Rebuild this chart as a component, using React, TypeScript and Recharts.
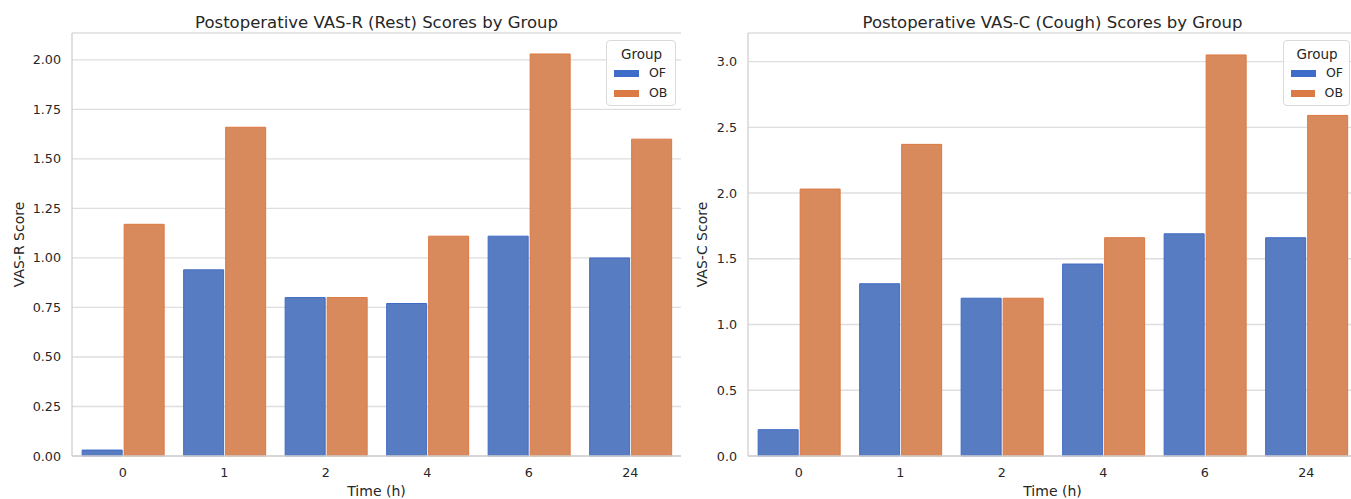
import React from 'react';
import { BarChart, Bar, XAxis, YAxis, CartesianGrid, Legend } from 'recharts';

// values
const times = ['0', '1', '2', '4', '6', '24'];
const restOF = [0.03, 0.94, 0.8, 0.77, 1.11, 1.0];
const restOB = [1.17, 1.66, 0.8, 1.11, 2.03, 1.6];
const coughOF = [0.2, 1.31, 1.2, 1.46, 1.69, 1.66];
const coughOB = [2.03, 2.37, 1.2, 1.66, 3.05, 2.59];
const restTicks = [0, 0.25, 0.5, 0.75, 1.0, 1.25, 1.5, 1.75, 2.0];
const coughTicks = [0, 0.5, 1.0, 1.5, 2.0, 2.5, 3.0];

const FONT = '"DejaVu Sans", Verdana, sans-serif';
const TEXT = '#262626';
const FRAME = '#d0d0d0';

const groups = [
  { key: 'OF', fill: '#587cc1', stroke: '#3f6bc6', swatch: '#3f6cc8' },
  { key: 'OB', fill: '#d88a5d', stroke: '#dc7840', swatch: '#dc7a45' },
];

const GroupLegend = ({ width }: { width: number }) => (
  <div
    style={{
      width,
      boxSizing: 'border-box',
      border: '1px solid #d9d9d9',
      borderRadius: 4,
      background: 'rgba(255,255,255,0.85)',
      padding: '4px 6px 2px 7px',
      fontFamily: FONT,
      color: TEXT,
    }}
  >
    <div style={{ fontSize: 13.5, textAlign: 'center', lineHeight: '18px' }}>Group</div>
    {groups.map((g) => (
      <div key={g.key} style={{ display: 'flex', alignItems: 'center', fontSize: 12.5, lineHeight: '20px' }}>
        <span style={{ display: 'inline-block', width: 25, height: 7, background: g.swatch, marginRight: 10 }} />
        {g.key}
      </div>
    ))}
  </div>
);

interface PanelProps {
  title: string;
  yLabel: string;
  of: number[];
  ob: number[];
  ticks: number[];
  yMax: number;
  digits: number;
  left: number;
  width: number;
  marginRight: number;
  axisWidth: number;
  legendLeft: number;
  legendWidth: number;
  yLabelX: number;
}

function Panel(p: PanelProps) {
  const data = times.map((t, i) => ({ time: t, OF: p.of[i], OB: p.ob[i] }));
  const plotLeft = p.axisWidth;
  const plotRight = p.width - p.marginRight;
  const cx = (plotLeft + plotRight) / 2;
  const tickStyle = { fill: TEXT, fontSize: 12.7, fontFamily: FONT };

  return (
    <div style={{ position: 'absolute', left: p.left, top: 0, width: p.width, height: 499 }}>
      <BarChart
        width={p.width}
        height={499}
        data={data}
        margin={{ top: 33, right: p.marginRight, bottom: 13, left: 0 }}
        barCategoryGap="10%"
        barGap={2}
      >
        <CartesianGrid vertical={false} stroke="#dedede" strokeWidth={1.3} />
        <XAxis
          dataKey="time"
          height={30}
          tickSize={0}
          tickMargin={12}
          tick={tickStyle}
          axisLine={{ stroke: FRAME, strokeWidth: 1.3 }}
        />
        <XAxis xAxisId="top" orientation="top" dataKey="time" height={0} tick={false} tickLine={false} axisLine={{ stroke: FRAME, strokeWidth: 1.3 }} />
        <YAxis
          width={p.axisWidth}
          domain={[0, p.yMax]}
          ticks={p.ticks}
          tickFormatter={(v: number) => v.toFixed(p.digits)}
          tickSize={0}
          tickMargin={11}
          tick={tickStyle}
          axisLine={{ stroke: FRAME, strokeWidth: 1.3 }}
        />
        <YAxis yAxisId="right" orientation="right" width={0} domain={[0, p.yMax]} tick={false} tickLine={false} axisLine={{ stroke: FRAME, strokeWidth: 1.3 }} />
        <Legend
          layout="vertical"
          align="center"
          verticalAlign="middle"
          wrapperStyle={{ left: p.legendLeft, top: 40, width: p.legendWidth }}
          content={() => <GroupLegend width={p.legendWidth} />}
        />
        {groups.map((g) => (
          <Bar key={g.key} dataKey={g.key} fill={g.fill} stroke={g.stroke} strokeWidth={1} isAnimationActive={false} />
        ))}
      </BarChart>
      <svg
        width={p.width}
        height={499}
        style={{ position: 'absolute', left: 0, top: 0, pointerEvents: 'none' }}
        fontFamily={FONT}
        fill={TEXT}
      >
        <text x={cx} y={22.5} fontSize={16.5} textAnchor="middle" dominantBaseline="central">{p.title}</text>
        <text x={cx} y={491} fontSize={14} textAnchor="middle" dominantBaseline="central">Time (h)</text>
        <text
          x={p.yLabelX}
          y={244.5}
          fontSize={14}
          textAnchor="middle"
          dominantBaseline="central"
          transform={`rotate(-90 ${p.yLabelX} 244.5)`}
        >
          {p.yLabel}
        </text>
      </svg>
    </div>
  );
}

export default function App() {
  return (
    <div style={{ position: 'fixed', left: 0, top: 0, width: 1351, height: 499, overflow: 'hidden', background: '#fff' }}>
      <Panel
        title="Postoperative VAS-R (Rest) Scores by Group"
        yLabel="VAS-R Score"
        of={restOF}
        ob={restOB}
        ticks={restTicks}
        yMax={2.136}
        digits={2}
        left={0}
        width={690}
        marginRight={9}
        axisWidth={72}
        legendLeft={606}
        legendWidth={70}
        yLabelX={19}
      />
      <Panel
        title="Postoperative VAS-C (Cough) Scores by Group"
        yLabel="VAS-C Score"
        of={coughOF}
        ob={coughOB}
        ticks={coughTicks}
        yMax={3.217}
        digits={1}
        left={680}
        width={700}
        marginRight={23}
        axisWidth={68}
        legendLeft={603}
        legendWidth={67}
        yLabelX={22}
      />
    </div>
  );
}
